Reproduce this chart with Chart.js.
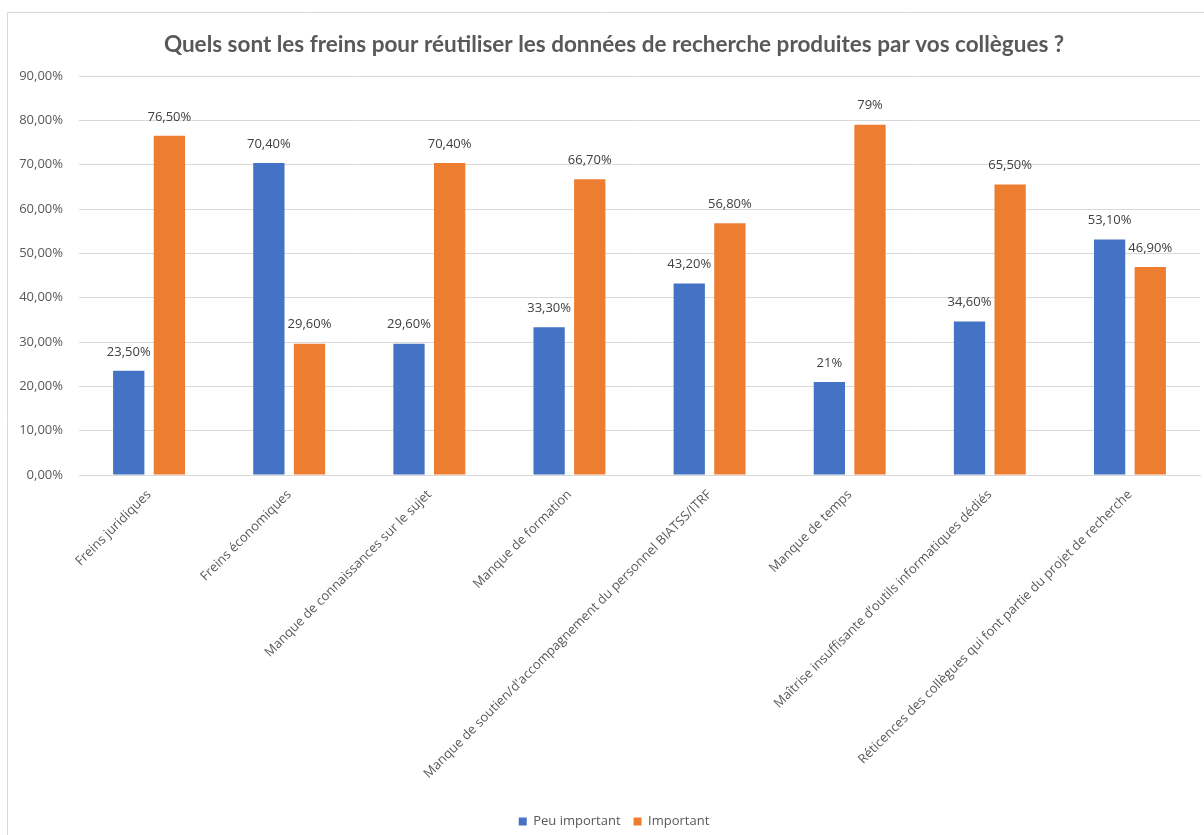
<!DOCTYPE html>
<html>
<head>
<meta charset="utf-8">
<script src="https://cdn.jsdelivr.net/npm/chart.js@4/dist/chart.umd.min.js"></script>
<style>
  html, body { margin: 0; padding: 0; background: #ffffff; }
  #wrap { width: 1204px; height: 835px; }
</style>
</head>
<body>
<div id="wrap"><canvas id="c" width="1204" height="835"></canvas></div>
<script>
const chartTitle = "Quels sont les freins pour réutiliser les données de recherche produites par vos collègues ?";
const categories = [
  "Freins juridiques",
  "Freins économiques",
  "Manque de connaissances sur le sujet",
  "Manque de formation",
  "Manque de soutien/d'accompagnement du personnel BIATSS/ITRF",
  "Manque de temps",
  "Maîtrise insuffisante d’outils informatiques dédiés",
  "Réticences des collègues qui font partie du projet de recherche"
];
const seriesNames = ["Peu important", "Important"];
const peuImportant = [23.5, 70.4, 29.6, 33.3, 43.2, 21, 34.6, 53.1];
const important = [76.5, 29.6, 70.4, 66.7, 56.8, 79, 65.5, 46.9];
const yTicks = [0, 10, 20, 30, 40, 50, 60, 70, 80, 90];

const colors = ["#4472C4", "#ED7D31"];
const textGray = "#595959";
const FONT = "'Open Sans', 'DejaVu Sans', sans-serif";

function fmtTick(v) { return v.toFixed(2).replace('.', ',') + '%'; }
function fmtLabel(v) {
  return (Number.isInteger(v) ? String(v) : v.toFixed(2).replace('.', ',')) + '%';
}

const framePlugin = {
  id: 'frame',
  afterLayout(chart) {
    const shift = 28;
    [chart.titleBlock, chart.legend].forEach(b => {
      if (b) { b.left += shift; b.width -= shift; }
    });
  },
  beforeDraw(chart) {
    const ctx = chart.ctx;
    ctx.save();
    ctx.fillStyle = '#ffffff';
    ctx.fillRect(0, 0, chart.width, chart.height);
    ctx.strokeStyle = '#d9d9d9';
    ctx.lineWidth = 1;
    ctx.beginPath();
    ctx.moveTo(7.5, chart.height);
    ctx.lineTo(7.5, 12.5);
    ctx.lineTo(chart.width, 12.5);
    ctx.stroke();
    ctx.restore();
  }
};

const labelPlugin = {
  id: 'barLabels',
  afterDatasetsDraw(chart) {
    const ctx = chart.ctx;
    ctx.save();
    ctx.font = "13px " + FONT;
    ctx.fillStyle = "#404040";
    ctx.textAlign = 'center';
    ctx.textBaseline = 'middle';
    chart.data.datasets.forEach((ds, i) => {
      const meta = chart.getDatasetMeta(i);
      meta.data.forEach((bar, j) => {
        ctx.fillText(fmtLabel(ds.data[j]), bar.x, bar.y - 19);
      });
    });
    ctx.restore();
  }
};

new Chart(document.getElementById('c'), {
  type: 'bar',
  data: {
    labels: categories,
    datasets: [
      { label: seriesNames[0], data: peuImportant, backgroundColor: colors[0], categoryPercentage: 0.58, barPercentage: 0.77 },
      { label: seriesNames[1], data: important, backgroundColor: colors[1], categoryPercentage: 0.58, barPercentage: 0.77 }
    ]
  },
  options: {
    responsive: false,
    devicePixelRatio: 1,
    animation: false,
    layout: { padding: { left: 0, right: 4, top: 0, bottom: -3 } },
    plugins: {
      title: {
        display: true,
        text: chartTitle,
        color: textGray,
        font: { family: "Lato, 'Open Sans', sans-serif", size: 22.5, weight: 'bold' },
        padding: { top: 31, bottom: 18 }
      },
      legend: {
        position: 'bottom',
        labels: {
          color: textGray,
          font: { family: FONT, size: 13 },
          boxWidth: 8,
          boxHeight: 8,
          padding: 13
        }
      },
      tooltip: { enabled: false }
    },
    scales: {
      y: {
        min: 0,
        max: 90,
        afterBuildTicks(scale) { scale.ticks = yTicks.map(v => ({ value: v })); },
        afterFit(scale) { scale.width = 79; },
        ticks: {
          color: textGray,
          font: { family: FONT, size: 13 },
          padding: 16,
          callback: (v) => fmtTick(v)
        },
        grid: { color: '#d9d9d9', drawTicks: false },
        border: { display: false }
      },
      x: {
        afterFit(scale) { scale.height = 327; },
        ticks: {
          color: textGray,
          font: { family: FONT, size: 13 },
          minRotation: 45,
          maxRotation: 45,
          autoSkip: false,
          padding: 4
        },
        grid: { display: false },
        border: { display: true, color: '#d9d9d9' }
      }
    }
  },
  plugins: [framePlugin, labelPlugin]
});
</script>
</body>
</html>
